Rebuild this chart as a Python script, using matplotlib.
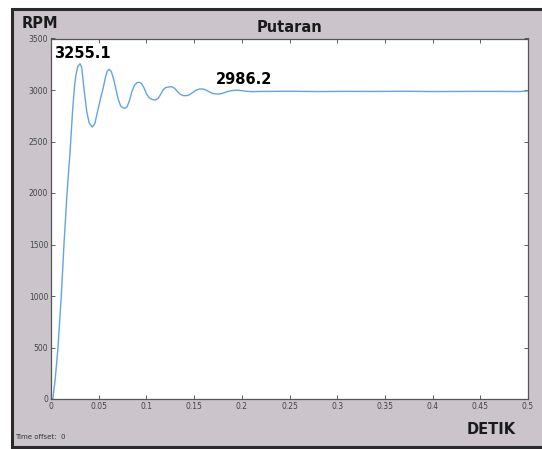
import matplotlib
matplotlib.use("Agg")
import matplotlib.pyplot as plt
from matplotlib.patches import Rectangle

# time (detik) and speed (RPM)
t_detik = [0.000, 0.002, 0.0045, 0.0073, 0.0108, 0.0136, 0.0168, 0.0200, 0.0225, 0.0245,
           0.0262, 0.0282, 0.0304, 0.0322, 0.0346, 0.0375, 0.0400, 0.0433, 0.0460, 0.0490,
           0.0520, 0.0545, 0.0570, 0.0590, 0.0608, 0.0632,
           0.0655, 0.0680, 0.0705, 0.0730, 0.0752, 0.0776, 0.0800, 0.0825, 0.0850, 0.0875,
           0.0900, 0.0926, 0.0950, 0.0975, 0.1000, 0.1025, 0.1045, 0.1072, 0.1097, 0.1125,
           0.1150, 0.1175, 0.1200, 0.1235, 0.1265, 0.1295, 0.1325, 0.1355, 0.1390, 0.1422,
           0.1455, 0.1490, 0.1525, 0.1560, 0.1590, 0.1625, 0.1660, 0.1700, 0.1750, 0.1800,
           0.1850, 0.1900, 0.1960, 0.2030, 0.2100, 0.2200, 0.2500, 0.2800, 0.3100, 0.3400,
           0.3700, 0.4000, 0.4300, 0.4600, 0.4900, 0.5000]
rpm = [0, 5, 200, 500, 1000, 1500, 2000, 2400, 2780, 3020,
       3150, 3230, 3255, 3220, 3010, 2790, 2680, 2640, 2675, 2800,
       2920, 3010, 3120, 3185, 3201, 3180,
       3110, 3010, 2910, 2845, 2828, 2823, 2840, 2905, 2990, 3045,
       3070, 3075, 3062, 3020, 2965, 2930, 2915, 2905, 2903, 2920,
       2960, 3000, 3022, 3030, 3032, 3018, 2985, 2958, 2945, 2945,
       2955, 2980, 3000, 3010, 3010, 3000, 2982, 2965, 2960, 2968,
       2985, 2995, 2998, 2990, 2984, 2986, 2988, 2985, 2987, 2986,
       2988, 2985, 2986, 2987, 2985, 2990]

x_ticks = [0, 0.05, 0.1, 0.15, 0.2, 0.25, 0.3, 0.35, 0.4, 0.45, 0.5]
x_labels = ["0", "0.05", "0.1", "0.15", "0.2", "0.25", "0.3", "0.35", "0.4", "0.45", "0.5"]
y_ticks = [0, 500, 1000, 1500, 2000, 2500, 3000, 3500]

peak_label = "3255.1"
steady_label = "2986.2"

W, H = 542, 449
bg = "#cbc5cb"

fig = plt.figure(figsize=(W / 100, H / 100), dpi=100)
fig.patch.set_facecolor("white")
# scope window frame
frame = Rectangle((12 / W, 2 / H), 1.1, 438 / H, transform=fig.transFigure,
                  facecolor=bg, edgecolor="#2a2a2a", linewidth=2.2, zorder=-5)
fig.patches.append(frame)

ax = fig.add_axes([51 / W, 50 / H, 477 / W, 360.5 / H])
ax.set_zorder(2)
ax.set_facecolor("white")
ax.plot(t_detik, rpm, color="#62a3e8", linewidth=1.0)

ax.set_xlim(0, 0.5)
ax.set_ylim(0, 3500)
ax.set_xticks(x_ticks)
ax.set_xticklabels(x_labels)
ax.set_yticks(y_ticks)
ax.tick_params(direction="in", length=3, width=0.6, labelsize=5.5, colors="#444444",
               top=True, right=True, pad=2)
for s in ax.spines.values():
    s.set_color("#555555")
    s.set_linewidth(0.9)

ax.text(0.003, 3350, peak_label, fontsize=10.5, fontweight="bold", va="center", ha="left")
ax.text(0.173, 3100, steady_label, fontsize=10.5, fontweight="bold", va="center", ha="left")

fig.text(289 / W, 1 - 27 / H, "Putaran", fontsize=10.5, fontweight="bold",
         ha="center", va="center", color="#1a1a1a")
fig.text(22 / W, 1 - 24 / H, "RPM", fontsize=10.5, fontweight="bold",
         ha="left", va="center", color="#1a1a1a")
fig.text(491 / W, 1 - 430 / H, "DETIK", fontsize=10.5, fontweight="bold",
         ha="center", va="center", color="#1a1a1a")
fig.text(15 / W, 1 - 437 / H, "Time offset:  0", fontsize=5, ha="left", va="center",
         color="#333333")

fig.savefig("out.png", dpi=100)
